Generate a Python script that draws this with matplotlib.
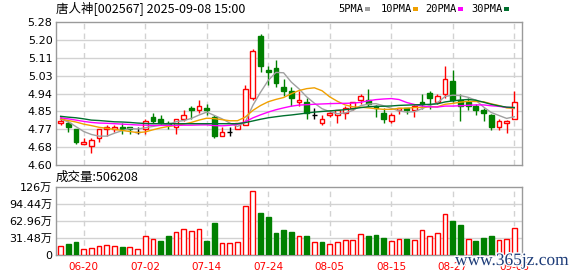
import matplotlib
matplotlib.use("Agg")
import matplotlib.pyplot as plt
import matplotlib.patheffects as pe
from matplotlib.patches import Rectangle
import numpy as np

plt.rcParams["font.family"] = ["DejaVu Sans", "Noto Sans CJK SC"]

# ── data ───────────────────────────────────────────────────────────────────
dates = [
    "06-17", "06-18", "06-19", "06-20", "06-23", "06-24", "06-25", "06-26", "06-27", "06-30",
    "07-01", "07-02", "07-03", "07-04", "07-07", "07-08", "07-09", "07-10", "07-11", "07-14",
    "07-15", "07-16", "07-17", "07-18", "07-21", "07-22", "07-23", "07-24", "07-25", "07-28",
    "07-29", "07-30", "07-31", "08-01", "08-04", "08-05", "08-06", "08-07", "08-08", "08-11",
    "08-12", "08-13", "08-14", "08-15", "08-18", "08-19", "08-20", "08-21", "08-22", "08-25",
    "08-26", "08-27", "08-28", "08-29", "09-01", "09-02", "09-03", "09-04", "09-05", "09-08",
]
opens = [
    4.80, 4.80, 4.77, 4.70, 4.69, 4.73, 4.77, 4.77, 4.78, 4.78,
    4.76, 4.77, 4.83, 4.82, 4.80, 4.78, 4.82, 4.87, 4.86, 4.87,
    4.83, 4.74, 4.76, 4.77, 4.79, 4.92, 5.21, 5.05, 5.06, 4.97,
    4.95, 4.90, 4.90, 4.84, 4.80, 4.84, 4.84, 4.85, 4.87, 4.91,
    4.91, 4.88, 4.85, 4.81, 4.86, 4.87, 4.86, 4.90, 4.94, 4.90,
    4.94, 5.00, 4.91, 4.90, 4.88, 4.86, 4.84, 4.78, 4.80, 4.82,
]
highs = [
    4.83, 4.81, 4.77, 4.73, 4.73, 4.77, 4.79, 4.79, 4.80, 4.78,
    4.78, 4.82, 4.85, 4.84, 4.81, 4.82, 4.86, 4.88, 4.91, 4.89,
    4.84, 4.78, 4.78, 4.80, 4.98, 5.15, 5.22, 5.07, 5.10, 5.01,
    4.97, 4.95, 4.92, 4.87, 4.84, 4.86, 4.86, 4.88, 4.90, 4.94,
    4.96, 4.885, 4.87, 4.85, 4.87, 4.87, 4.885, 4.94, 4.95, 4.94,
    5.07, 5.05, 4.94, 4.92, 4.89, 4.87, 4.845, 4.82, 4.815, 4.95,
]
lows = [
    4.79, 4.76, 4.70, 4.70, 4.66, 4.71, 4.74, 4.76, 4.75, 4.75,
    4.75, 4.75, 4.80, 4.79, 4.77, 4.75, 4.81, 4.82, 4.85, 4.84,
    4.73, 4.74, 4.74, 4.77, 4.79, 4.91, 5.04, 4.98, 4.97, 4.93,
    4.88, 4.88, 4.82, 4.82, 4.79, 4.83, 4.80, 4.82, 4.86, 4.89,
    4.88, 4.83, 4.80, 4.80, 4.845, 4.845, 4.83, 4.865, 4.865, 4.89,
    4.92, 4.90, 4.81, 4.86, 4.84, 4.81, 4.765, 4.765, 4.755, 4.82,
]
closes = [
    4.81, 4.78, 4.71, 4.71, 4.72, 4.77, 4.78, 4.78, 4.77, 4.77,
    4.76, 4.81, 4.81, 4.80, 4.79, 4.82, 4.84, 4.86, 4.88, 4.86,
    4.74, 4.76, 4.76, 4.80, 4.96, 5.14, 5.07, 5.04, 4.99, 4.95,
    4.92, 4.91, 4.85, 4.84, 4.82, 4.85, 4.86, 4.87, 4.90, 4.93,
    4.89, 4.87, 4.82, 4.84, 4.87, 4.86, 4.88, 4.89, 4.92, 4.93,
    5.01, 4.91, 4.88, 4.88, 4.86, 4.85, 4.78, 4.81, 4.81, 4.90,
]
# volume in 万 shares
volumes = [
    16.6, 20.9, 24.0, 11.1, 12.9, 16.6, 18.4, 16.6, 14.7, 14.7,
    11.1, 35.0, 29.5, 26.4, 35.6, 43.6, 47.9, 44.2, 47.9, 25.8,
    59.6, 22.1, 22.1, 24.0, 90.3, 117.9, 77.4, 70.0, 41.2, 46.1,
    43.0, 35.0, 35.0, 24.0, 24.0, 20.3, 24.0, 27.6, 28.9, 39.9,
    35.0, 36.9, 31.3, 25.8, 30.7, 29.5, 27.6, 47.3, 35.0, 41.8,
    75.6, 62.7, 55.3, 30.7, 25.8, 31.3, 35.0, 27.6, 30.7, 50.6208,
]
vol_up = [
    1, 0, 0, 1, 1, 1, 1, 1, 0, 1,
    1, 1, 1, 0, 0, 1, 1, 1, 1, 0,
    0, 1, 1, 1, 1, 1, 0, 0, 0, 0,
    0, 1, 0, 1, 0, 1, 1, 1, 1, 1,
    0, 0, 0, 1, 1, 0, 1, 1, 1, 1,
    1, 0, 0, 1, 0, 0, 0, 1, 1, 1,
]
ma5 = [
    4.818, 4.806, 4.783, 4.760, 4.746, 4.738, 4.738, 4.752, 4.764, 4.774,
    4.772, 4.778, 4.784, 4.790, 4.794, 4.806, 4.812, 4.822, 4.838, 4.852,
    4.836, 4.820, 4.800, 4.784, 4.804, 4.884, 4.946, 5.002, 5.040, 5.038,
    4.994, 4.962, 4.924, 4.894, 4.868, 4.854, 4.844, 4.848, 4.860, 4.882,
    4.890, 4.892, 4.882, 4.870, 4.858, 4.852, 4.854, 4.868, 4.884, 4.896,
    4.926, 4.932, 4.930, 4.922, 4.908, 4.876, 4.850, 4.836, 4.822, 4.830,
]
ma10 = [
    4.820, 4.812, 4.805, 4.795, 4.788, 4.780, 4.775, 4.770, 4.765, 4.760,
    4.755, 4.758, 4.768, 4.777, 4.784, 4.789, 4.795, 4.803, 4.814, 4.823,
    4.821, 4.816, 4.811, 4.811, 4.828, 4.860, 4.883, 4.901, 4.912, 4.921,
    4.939, 4.954, 4.963, 4.967, 4.953, 4.924, 4.903, 4.886, 4.877, 4.875,
    4.872, 4.868, 4.865, 4.865, 4.870, 4.871, 4.873, 4.875, 4.877, 4.877,
    4.889, 4.893, 4.899, 4.903, 4.902, 4.901, 4.891, 4.883, 4.872, 4.869,
]
ma20 = [
    4.825, 4.820, 4.814, 4.808, 4.803, 4.800, 4.799, 4.797, 4.795, 4.793,
    4.791, 4.790, 4.789, 4.789, 4.789, 4.789, 4.790, 4.790, 4.791, 4.7915,
    4.788, 4.787, 4.7895, 4.794, 4.806, 4.8245, 4.839, 4.852, 4.863, 4.872,
    4.880, 4.885, 4.887, 4.889, 4.8905, 4.892, 4.893, 4.8935, 4.8945, 4.898,
    4.9055, 4.911, 4.914, 4.916, 4.9115, 4.8975, 4.888, 4.8805, 4.877, 4.876,
    4.8805, 4.8805, 4.882, 4.884, 4.886, 4.886, 4.882, 4.879, 4.8745, 4.873,
]
ma30 = [
    4.832, 4.828, 4.825, 4.820, 4.814, 4.812, 4.809, 4.806, 4.805, 4.803,
    4.800, 4.798, 4.797, 4.797, 4.797, 4.797, 4.797, 4.797, 4.797, 4.797,
    4.797, 4.797, 4.797, 4.797, 4.802, 4.810, 4.818, 4.825, 4.830, 4.8347,
    4.8383, 4.8427, 4.8473, 4.8517, 4.855, 4.8577, 4.8603, 4.8633, 4.8677, 4.873,
    4.8773, 4.8793, 4.8797, 4.881, 4.8837, 4.885, 4.8863, 4.8873, 4.8887, 4.891,
    4.900, 4.905, 4.909, 4.9117, 4.9083, 4.8987, 4.889, 4.8813, 4.8753, 4.8737,
]
price_tick_labels = ["4.60", "4.68", "4.77", "4.85", "4.94", "5.03", "5.11", "5.20", "5.28"]
vol_tick_labels = ["0", "31.48万", "62.96万", "94.44万", "126万"]
date_label_idx = [3, 11, 19, 27, 35, 43, 51, 59]
title = "唐人神[002567] 2025-09-08 15:00"
vol_title = "成交量:506208"

RED = "#ff0000"
GREEN = "#008000"
MA_COLORS = {"5PMA": "#a0a0a0", "10PMA": "#f0a000", "20PMA": "#ff00ff", "30PMA": "#006f2e"}
GRID = "#d2d2d2"
BORDER = "#9a9a9a"

W, H = 578, 276
fig = plt.figure(figsize=(W / 100, H / 100), dpi=100)
fig.patch.set_facecolor("white")


def fx(px):
    return px / W


def fy(py):
    return 1 - py / H


ax = fig.add_axes([fx(56), fy(165.3), fx(466), 143.6 / H])
vax = fig.add_axes([fx(56), fy(255.3), fx(466), 68.6 / H])

x = np.arange(len(closes))
bw = 0.62

# candles
for i in x:
    o, h, l, c = opens[i], highs[i], lows[i], closes[i]
    if c > o:
        col, face = RED, "white"
    elif c < o:
        col, face = GREEN, GREEN
    else:
        col, face = "black", "black"
    ax.vlines(i, l, h, color=col, lw=1, zorder=2)
    if c == o:
        ax.hlines(c, i - bw / 2, i + bw / 2, color=col, lw=1, zorder=3)
    else:
        ax.bar(i, abs(c - o), bottom=min(o, c), width=bw, facecolor=face,
               edgecolor=col, lw=1, zorder=3)

# moving averages
for name, vals in zip(MA_COLORS, [ma5, ma10, ma20, ma30]):
    ax.plot(x, vals, color=MA_COLORS[name], lw=1, zorder=4)

# volume bars
for i in x:
    col = RED if vol_up[i] else GREEN
    vax.bar(i, volumes[i], width=bw, facecolor="white" if vol_up[i] else GREEN,
            edgecolor=col, lw=1, zorder=3)

price_ticks = np.linspace(4.60, 5.28, len(price_tick_labels))
vol_ticks = np.linspace(0, 125.92, len(vol_tick_labels))

for a, ticks, labels in [(ax, price_ticks, price_tick_labels),
                         (vax, vol_ticks, vol_tick_labels)]:
    a.set_xlim(-0.6, 60.0)
    a.set_ylim(ticks[0], ticks[-1])
    a.set_yticks(ticks)
    a.set_yticklabels(labels)
    a.tick_params(axis="y", length=0, pad=2.5, labelsize=8)
    a.set_xticks([x[j] for j in date_label_idx])
    for yv in ticks[1:-1]:
        a.axhline(yv, color=GRID, lw=1, zorder=0)
    for j in date_label_idx:
        a.axvline(x[j], color=GRID, lw=1, ls=(0, (4, 3)), zorder=0)
    for sp in a.spines.values():
        sp.set_color(BORDER)
        sp.set_linewidth(1)

ax.tick_params(axis="x", length=0, labelbottom=False)
vax.set_xticklabels([dates[j] for j in date_label_idx])
vax.tick_params(axis="x", length=0, pad=5, labelsize=7.5, labelcolor=RED)

# header texts
fig.text(fx(56), fy(8.5), title, family=["Noto Sans CJK SC"], fontsize=9,
         va="center", ha="left")
fig.text(fx(56), fy(177.5), vol_title, family=["Noto Sans CJK SC"], fontsize=9,
         va="center", ha="left")

# legend
leg_x = [338.7, 380.3, 425.7, 471.3]
for (name, col), lx in zip(MA_COLORS.items(), leg_x):
    t = fig.text(fx(lx), fy(9), name, family="DejaVu Sans Mono", fontsize=7.5,
                 va="center", ha="left")
    fig.patches.append(Rectangle((fx(lx + len(name) * 6.0 + 2.5), fy(10.5)),
                                 fx(5), 3 / H, transform=fig.transFigure,
                                 facecolor=col, edgecolor="none"))

# site watermark
fig.text(fx(455), fy(261), "www.365jz.com", family="Liberation Serif",
         fontsize=12.5, color="#1c3b78", va="center", ha="left",
         path_effects=[pe.withStroke(linewidth=2, foreground="white")])

fig.savefig("out.png", dpi=100, facecolor="white")
